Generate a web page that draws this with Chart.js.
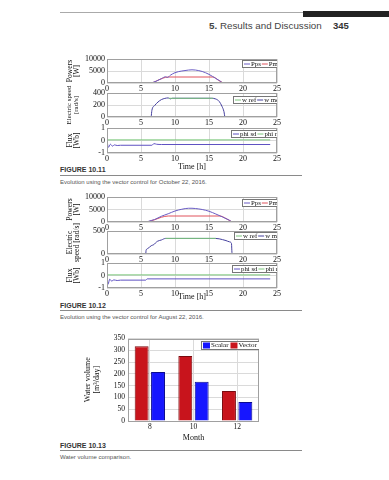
<!DOCTYPE html>
<html><head><meta charset="utf-8">
<script src="https://cdn.jsdelivr.net/npm/chart.js@4.4.1/dist/chart.umd.min.js"></script>
<style>
body{margin:0;width:389px;height:480px;background:#fff;position:relative;overflow:hidden;font-family:"Liberation Sans",Arial,sans-serif}
canvas{position:absolute}
.t{position:absolute;white-space:nowrap;line-height:1}
.fig{font-family:"Liberation Sans Narrow","Liberation Sans",sans-serif;font-weight:bold;font-size:7px;color:#333}
.cap{font-size:6px;color:#555}
.rule{position:absolute;left:60px;width:242px;height:1px;background:#8a8a8a}
</style></head><body>

<div class="rule" style="top:12px;width:243px;background:#aaa"></div>
<div style="position:absolute;left:303px;top:11px;width:86px;height:6px;background:#222"></div>
<div class="t" style="left:209px;top:21px;font-size:9.8px;color:#444"><b>5.</b> Results and Discussion</div>
<div class="t" style="left:333px;top:21px;font-size:9.5px;font-weight:bold;color:#333">345</div>

<div class="t fig" style="left:60px;top:166px">FIGURE 10.11</div>
<div class="rule" style="top:175px"></div>
<div class="t cap" style="left:60px;top:179px">Evolution using the vector control for October 22, 2016.</div>

<div class="t fig" style="left:60px;top:302px">FIGURE 10.12</div>
<div class="rule" style="top:310px"></div>
<div class="t cap" style="left:60px;top:314px">Evolution using the vector control for August 22, 2016.</div>

<div class="t fig" style="left:60px;top:442px">FIGURE 10.13</div>
<div class="rule" style="top:450px"></div>
<div class="t cap" style="left:60px;top:454px">Water volume comparison.</div>

<script>
// ── DATA ──
var TIME_TICKS = [0, 5, 10, 15, 20, 25];

// Figure 10.11 — October 22, 2016
var oct_pps_t = [6.5, 7.2, 8.0, 8.6, 8.9, 9.3, 10, 11, 12, 12.5, 13, 14, 15, 16, 16.6, 17.1, 24];
var oct_pps   = [0, 700, 1800, 2600, 2300, 3200, 4300, 5000, 5400, 5500, 5400, 4800, 3600, 1900, 900, 0, 0];
var oct_pm_t  = [0, 6.5, 7.3, 8.2, 9.0, 15.6, 16.4, 17.1];
var oct_pm    = [0, 0, 900, 2000, 2500, 2500, 1100, 0];

var oct_wref_t = [0, 6.5, 6.6, 9.1, 15.6];
var oct_wref   = [0, 0, null, 312, 312];
var oct_wmes_t = [6.5, 6.6, 7.0, 7.5, 8.0, 8.5, 9.0, 9.3, 9.6, 15.4, 16.0, 16.5, 16.9, 17.2, 17.35, 24];
var oct_wmes   = [0, 110, 190, 250, 290, 310, 318, 302, 312, 312, 300, 260, 180, 90, 0, 0];

var oct_phirq_t = [0, 24];
var oct_phirq   = [0.05, 0.05];
var oct_phisd_t = [0, 0.2, 0.5, 0.8, 1.1, 1.5, 2.0, 6.6, 6.9, 7.3, 8.0, 24];
var oct_phisd   = [0, -0.55, -0.3, -0.45, -0.35, -0.4, -0.38, -0.38, -0.25, -0.3, -0.32, -0.32];

// Figure 10.12 — August 22, 2016
var aug_pps_t = [5.8, 6.5, 7.0, 8.0, 9.0, 10, 11, 12, 12.5, 13, 14, 15, 16, 17, 18, 18.5, 24];
var aug_pps   = [0, 600, 1000, 2300, 3300, 4400, 5100, 5500, 5500, 5400, 5000, 4300, 3200, 2000, 700, 0, 0];
var aug_pm_t  = [0, 5.8, 6.5, 7.0, 8.0, 9.0, 16.6, 17.5, 18.4];
var aug_pm    = [0, 0, 500, 900, 1900, 2400, 2400, 1400, 0];

var aug_wref_t = [0, 5.7, 5.8, 8.6, 16.0];
var aug_wref   = [0, 0, null, 340, 340];
var aug_wmes_t = [5.7, 5.75, 6.0, 6.5, 6.9, 7.1, 7.4, 8.0, 8.6, 16.0, 16.5, 17.0, 17.5, 18.0, 18.3, 18.4, 24];
var aug_wmes   = [0, 80, 120, 180, 205, 235, 275, 305, 338, 338, 330, 312, 292, 265, 230, 0, 0];

var aug_phirq_t = [0, 24];
var aug_phirq   = [0.05, 0.05];
var aug_phisd_t = [0, 0.15, 0.4, 0.7, 1.0, 1.5, 2.0, 5.7, 5.9, 24];
var aug_phisd   = [0, -0.7, -0.3, -0.45, -0.35, -0.4, -0.37, -0.37, -0.27, -0.27];

// Figure 10.13 — water volume
var months     = ['8', '10', '12'];
var scalarVol  = [208, 166, 81];
var vectorVol  = [317, 276, 127];
var volTicks   = [0, 50, 100, 150, 200, 250, 300, 350];

// ── COLOURS ──
var C_PPS = '#6a5cc4', C_PM = '#e0525c', C_REF = '#7cc87c', C_MES = '#45409e';
var C_SD = '#5f52c2', C_RQ = '#7cc87c';
var C_RED = '#c8141c', C_BLUE = '#1616ff';

var SERIF = '"Liberation Serif","DejaVu Serif",serif';
Chart.defaults.font.family = SERIF;
Chart.defaults.font.size = 8;
Chart.defaults.color = '#111';
Chart.defaults.animation = false;

function pts(t, v) { return t.map(function(x, i) { return { x: x, y: v[i] }; }); }
function plain(v) { return String(v); }

// grey frame round the plot area
var framePlugin = {
  id: 'frame',
  afterDraw: function(c) {
    var a = c.chartArea, x = c.ctx;
    x.save(); x.strokeStyle = '#a0a0a0'; x.lineWidth = 1;
    x.strokeRect(Math.round(a.left) + .5, Math.round(a.top) + .5, Math.round(a.right - a.left) - 1, Math.round(a.bottom - a.top) - 1);
    x.restore();
  }
};

// small boxed legend inside the top-right of the plot (clipped at the frame, like the scan)
var boxLegend = {
  id: 'boxLegend',
  afterDraw: function(c, args, o) {
    if (!o || !o.show) return;
    var ctx = c.ctx, a = c.chartArea;
    var ds = c.data.datasets.slice();
    if (o.reverse) ds.reverse();
    ctx.save();
    ctx.beginPath(); ctx.rect(a.left, a.top, a.right - a.left, a.bottom - a.top); ctx.clip();
    ctx.font = o.size + 'px ' + SERIF;
    var x0 = Math.round(a.right + o.x), y0 = Math.round(a.top + o.y), h = o.h;
    var w = 2;
    ds.forEach(function(d) { w += o.sw + 1 + ctx.measureText(d.label).width + (o.gap || 1); });
    ctx.fillStyle = '#fff'; ctx.fillRect(x0, y0, w + 4, h);
    ctx.strokeStyle = '#777'; ctx.lineWidth = 1;
    ctx.strokeRect(x0 + .5, y0 + .5, Math.round(w + 4), h);
    var x = x0 + 2, cy = y0 + h / 2 + .5;
    ctx.textBaseline = 'middle';
    ds.forEach(function(d) {
      if (o.mode === 'box') {
        ctx.fillStyle = d.backgroundColor; ctx.fillRect(x, cy - 3, o.sw, 6);
      } else {
        ctx.strokeStyle = d.borderColor; ctx.beginPath(); ctx.moveTo(x, cy); ctx.lineTo(x + o.sw, cy); ctx.stroke();
      }
      x += o.sw + 1;
      ctx.fillStyle = '#111'; ctx.fillText(d.label, x, cy);
      x += ctx.measureText(d.label).width + (o.gap || 1);
    });
    ctx.restore();
  }
};

function panel(left, top, width, height) {
  var c = document.createElement('canvas');
  c.width = width; c.height = height;
  c.style.left = left + 'px'; c.style.top = top + 'px';
  document.body.appendChild(c);
  return c.getContext('2d');
}

// one strip of a stacked time plot; extra top/bottom room so rotated titles are not cut
var PAD = 12;
function linePanel(p) {
  var ctx = panel(66, p.top - PAD, 219, PAD + p.plotH + p.xH + PAD);
  return new Chart(ctx, {
    type: 'line',
    data: { datasets: p.series.map(function(s) {
      return { label: s.label, data: s.data, borderColor: s.color, borderWidth: 1, pointRadius: 0,
               fill: false, spanGaps: false, cubicInterpolationMode: 'monotone' };
    }) },
    options: {
      responsive: false, animation: false,
      layout: { padding: { top: PAD, right: 8, left: 0, bottom: PAD } },
      plugins: { legend: { display: false }, tooltip: { enabled: false },
                 boxLegend: { show: true, x: p.legX, y: p.legY || 1, h: 7, sw: 6, size: 6.8 } },
      scales: {
        x: {
          type: 'linear', min: 0, max: 25,
          afterBuildTicks: function(s) { s.ticks = TIME_TICKS.map(function(v) { return { value: v }; }); },
          grid: { color: '#dadada', drawTicks: false }, border: { display: false },
          ticks: { padding: 1, maxRotation: 0, autoSkip: false, callback: plain },
          title: p.xTitle ? { display: true, text: 'Time [h]', padding: { top: 0, bottom: 0 }, font: { size: 8 } } : { display: false },
          afterFit: function(s) { s.height = p.xH; }
        },
        y: {
          min: p.yMin, max: p.yMax,
          afterBuildTicks: function(s) { s.ticks = p.yTicks.map(function(v) { return { value: v }; }); },
          grid: { color: '#dadada', drawTicks: false }, border: { display: false },
          ticks: { padding: 2, autoSkip: false, callback: plain },
          title: { display: true, text: p.yTitle, padding: 0, font: { size: p.tSize || 7.6, lineHeight: 1.0 } },
          afterFit: function(s) { s.width = 41; }
        }
      }
    },
    plugins: [framePlugin, boxLegend]
  });
}

// ── FIGURE 10.11 ──
linePanel({ top: 59, plotH: 24, xH: 10, yMin: 0, yMax: 10000, yTicks: [0, 5000, 10000], yTitle: ['Powers', '[W]'], legX: -35,
  series: [{ label: 'Pps', color: C_PPS, data: pts(oct_pps_t, oct_pps) }, { label: 'Pm', color: C_PM, data: pts(oct_pm_t, oct_pm) }] });
linePanel({ top: 93, plotH: 24, xH: 10, yMin: 0, yMax: 400, yTicks: [0, 200, 400], yTitle: ['Electric speed', '[rad/s]'], tSize: 6.9, legX: -44, legY: 3,
  series: [{ label: 'w ref', color: C_REF, data: pts(oct_wref_t, oct_wref) }, { label: 'w mes', color: C_MES, data: pts(oct_wmes_t, oct_wmes) }] });
linePanel({ top: 128, plotH: 25, xH: 19, yMin: -1, yMax: 1, yTicks: [-1, 0, 1], yTitle: ['Flux', '[Wb]'], legX: -46, legY: 2, xTitle: true,
  series: [{ label: 'phi sd', color: C_SD, data: pts(oct_phisd_t, oct_phisd) }, { label: 'phi rq', color: C_RQ, data: pts(oct_phirq_t, oct_phirq) }] });

// ── FIGURE 10.12 ──
linePanel({ top: 197, plotH: 25, xH: 9, yMin: 0, yMax: 10000, yTicks: [0, 5000, 10000], yTitle: ['Powers', '[W]'], legX: -35, legY: 2,
  series: [{ label: 'Pps', color: C_PPS, data: pts(aug_pps_t, aug_pps) }, { label: 'Pm', color: C_PM, data: pts(aug_pm_t, aug_pm) }] });
linePanel({ top: 231, plotH: 23, xH: 10, yMin: 0, yMax: 500, yTicks: [0, 500], yTitle: ['Electric', 'speed [rad/s]'], legX: -43, legY: 1,
  series: [{ label: 'w ref', color: C_REF, data: pts(aug_wref_t, aug_wref) }, { label: 'w mes', color: C_MES, data: pts(aug_wmes_t, aug_wmes) }] });
linePanel({ top: 263, plotH: 25, xH: 14, yMin: -1, yMax: 1, yTicks: [-1, 0, 1], yTitle: ['Flux', '[Wb]'], legX: -45, legY: 2, xTitle: true,
  series: [{ label: 'phi sd', color: C_SD, data: pts(aug_phisd_t, aug_phisd) }, { label: 'phi rq', color: C_RQ, data: pts(aug_phirq_t, aug_phirq) }] });

// ── FIGURE 10.13 ──
var barCtx = panel(84, 331, 180, 112);
new Chart(barCtx, {
  type: 'bar',
  data: {
    labels: months,
    datasets: [
      { label: 'Vector', data: vectorVol, backgroundColor: C_RED, borderColor: '#7a0a0e', borderWidth: 1 },
      { label: 'Scalar', data: scalarVol, backgroundColor: C_BLUE, borderColor: '#0a0a90', borderWidth: 1 }
    ]
  },
  options: {
    responsive: false, animation: false,
    categoryPercentage: 0.75, barPercentage: 0.85,
    layout: { padding: { top: 7, right: 5, left: 0, bottom: 0 } },
    plugins: { legend: { display: false }, tooltip: { enabled: false },
               boxLegend: { show: true, reverse: true, mode: 'box', x: -58, y: 2, h: 8, sw: 7, size: 7, gap: 2 } },
    scales: {
      x: { grid: { color: '#dadada', drawTicks: false, offset: false }, border: { display: false },
           ticks: { padding: 2, font: { size: 7.5 } }, title: { display: true, text: 'Month', padding: 0, font: { size: 8 } },
           afterFit: function(s) { s.height = 22; } },
      y: { min: 0, max: 350,
           afterBuildTicks: function(s) { s.ticks = volTicks.map(function(v) { return { value: v }; }); },
           grid: { color: '#dadada', drawTicks: false }, border: { display: false },
           ticks: { padding: 3, autoSkip: false, callback: plain, font: { size: 7.5 } },
           title: { display: true, text: ['Water volume', '[m\u00b3/day]'], padding: 0, font: { size: 8, lineHeight: 1.05 } },
           afterFit: function(s) { s.width = 44; } }
    }
  },
  plugins: [framePlugin, boxLegend]
});
</script>
</body></html>
